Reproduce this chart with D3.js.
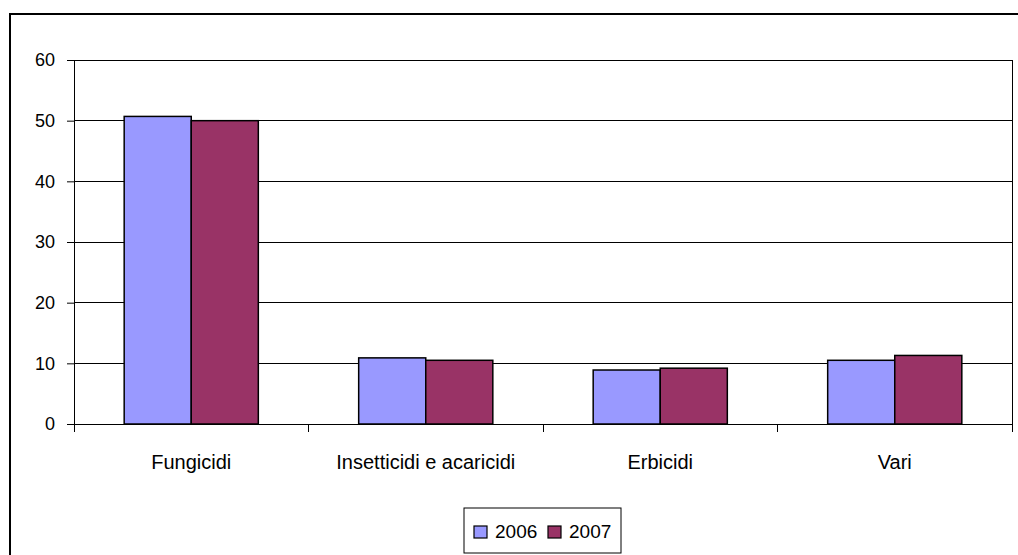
<!DOCTYPE html>
<html>
<head>
<meta charset="utf-8">
<script src="https://cdn.jsdelivr.net/npm/d3@7"></script>
<style>
  body { margin: 0; background: #fff; }
  svg { display: block; font-family: "Liberation Sans", Arial, sans-serif; }
</style>
</head>
<body>
<div id="chart"></div>
<script>
const categories = ["Fungicidi", "Insetticidi e acaricidi", "Erbicidi", "Vari"];
const years = ["2006", "2007"];
const values2006 = [50.7, 10.9, 8.9, 10.5];
const values2007 = [50.0, 10.5, 9.2, 11.3];
const yTicks = [0, 10, 20, 30, 40, 50, 60];
const colors = ["#9999ff", "#993366"];

const svg = d3.select("#chart")
  .append("svg")
  .attr("width", 1018)
  .attr("height", 555);

// outer chart frame (runs off the right and bottom edges)
svg.append("rect")
  .attr("x", 10).attr("y", 14)
  .attr("width", 1100).attr("height", 600)
  .attr("fill", "none")
  .attr("stroke", "#000")
  .attr("stroke-width", 2);

const plot = { left: 74, right: 1012, top: 60, bottom: 424 };

const y = d3.scaleLinear().domain([0, 60]).range([plot.bottom, plot.top]);
const x0 = d3.scaleBand().domain(categories).range([plot.left, plot.right]);
const bw = x0.bandwidth();
const x1 = d3.scaleBand().domain(years).range([bw * 0.214, bw * 0.786]);

const g = svg.append("g");

// gridlines
g.selectAll("line.grid")
  .data(yTicks.filter(d => d > 0))
  .enter().append("line")
  .attr("x1", plot.left).attr("x2", plot.right)
  .attr("y1", d => y(d)).attr("y2", d => y(d))
  .attr("stroke", "#000").attr("stroke-width", 1)
  .attr("shape-rendering", "crispEdges");

// plot area right border
g.append("line")
  .attr("x1", plot.right).attr("x2", plot.right)
  .attr("y1", plot.top).attr("y2", plot.bottom)
  .attr("stroke", "#000")
  .attr("shape-rendering", "crispEdges");

// bars
const rows = categories.map((c, i) => ({ cat: c, vals: [values2006[i], values2007[i]] }));
const groups = g.selectAll("g.cat")
  .data(rows)
  .enter().append("g")
  .attr("transform", d => `translate(${x0(d.cat)},0)`);

groups.selectAll("rect")
  .data(d => d.vals.map((v, j) => ({ year: years[j], v, j })))
  .enter().append("rect")
  .attr("x", d => x1(d.year))
  .attr("y", d => y(d.v))
  .attr("width", x1.bandwidth())
  .attr("height", d => plot.bottom - y(d.v))
  .attr("fill", d => colors[d.j])
  .attr("stroke", "#000")
  .attr("stroke-width", 1.5);

// y axis
const yAxis = d3.axisLeft(y).tickValues(yTicks).tickSize(7).tickPadding(12);
svg.append("g")
  .attr("transform", `translate(${plot.left},0)`)
  .call(yAxis)
  .call(a => a.select(".domain").attr("stroke", "#000"))
  .call(a => a.selectAll(".tick line").attr("stroke", "#000"))
  .call(a => a.selectAll("text")
    .attr("fill", "#000")
    .style("font-size", "18px")
    .style("font-family", "'Liberation Sans', Arial, sans-serif"));

// x axis line and boundary ticks
svg.append("line")
  .attr("x1", plot.left).attr("x2", plot.right)
  .attr("y1", plot.bottom).attr("y2", plot.bottom)
  .attr("stroke", "#000")
  .attr("shape-rendering", "crispEdges");

const bounds = categories.map(c => x0(c)).concat([plot.right]);
svg.selectAll("line.xtick")
  .data(bounds)
  .enter().append("line")
  .attr("x1", d => d).attr("x2", d => d)
  .attr("y1", plot.bottom).attr("y2", plot.bottom + 8)
  .attr("stroke", "#000")
  .attr("shape-rendering", "crispEdges");

svg.selectAll("text.cat")
  .data(categories)
  .enter().append("text")
  .attr("x", d => x0(d) + bw / 2)
  .attr("y", 469)
  .attr("text-anchor", "middle")
  .style("font-size", "20px")
  .text(d => d);

// legend
const legend = svg.append("g").attr("transform", "translate(464,508)");
legend.append("rect")
  .attr("width", 157).attr("height", 45)
  .attr("fill", "#fff").attr("stroke", "#000");

const items = legend.selectAll("g.item")
  .data(years)
  .enter().append("g")
  .attr("transform", (d, i) => `translate(${10 + i * 74},0)`);

items.append("rect")
  .attr("x", 0).attr("y", 18)
  .attr("width", 13).attr("height", 12)
  .attr("fill", (d, i) => colors[i])
  .attr("stroke", "#000")
  .attr("stroke-width", 1.2);

items.append("text")
  .attr("x", 21).attr("y", 30)
  .style("font-size", "19px")
  .text(d => d);
</script>
</body>
</html>
